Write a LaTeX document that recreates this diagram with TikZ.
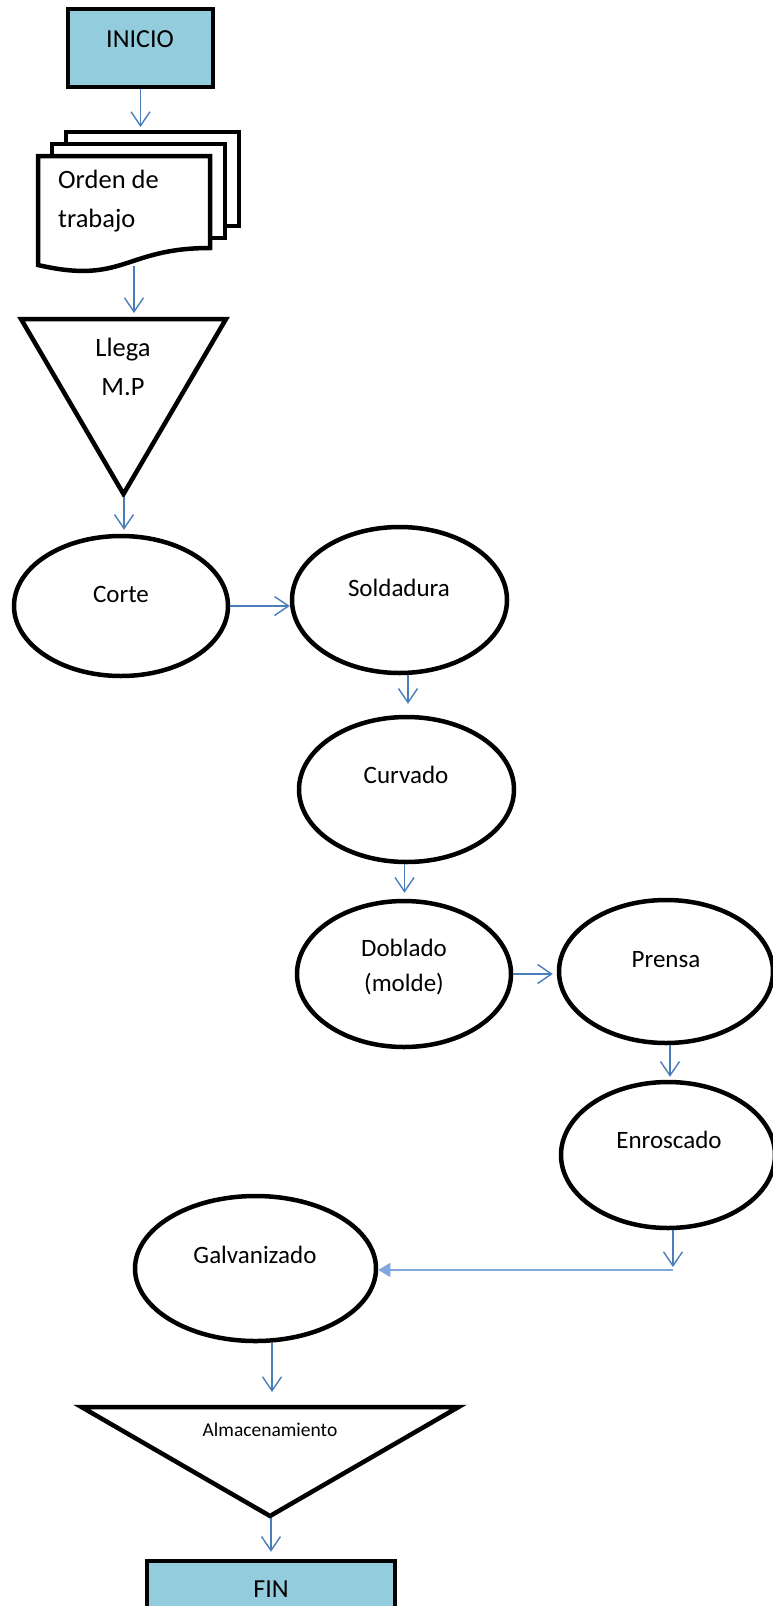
\documentclass[tikz,border=0pt]{standalone}
\usepackage{fontspec}
\setmainfont{Carlito}
\usetikzlibrary{arrows.meta,shapes.geometric}
\definecolor{arrowblue}{HTML}{4A7EBB}
\definecolor{lineblue}{HTML}{7FA8DF}
\definecolor{boxfill}{HTML}{93CDDD}
\begin{document}
\begin{tikzpicture}[x=1pt,y=-1pt,
  proc/.style={ellipse, draw=black, line width=4.5pt, fill=white, inner sep=0pt},
  term/.style={rectangle, draw=black, line width=4.5pt, fill=boxfill, inner sep=0pt, minimum width=145pt, minimum height=78pt},
  lbl/.style={anchor=base, inner sep=0pt, font=\fontsize{25}{30}\selectfont},
  lblbig/.style={anchor=base, inner sep=0pt, font=\fontsize{26.5}{32}\selectfont},
  lblsmall/.style={anchor=base, inner sep=0pt, font=\fontsize{19.5}{24}\selectfont},
  outline/.style={draw=black, line width=4.5pt, fill=white, line join=miter},
  arr/.style={draw=arrowblue, line width=1.4pt, -{Straight Barb[length=14pt,width=19pt]}},
  arrlight/.style={draw=lineblue, line width=1.4pt, -{Triangle[length=12pt,width=14pt]}}
]
\useasboundingbox (0,0) rectangle (773,1606);
\clip (0,0) rectangle (773,1606);

% start
\node[term] (inicio) at (140.5,48) {};
\node[lblbig, font=\fontsize{26}{32}\selectfont] (inicioT) at (140,47) {INICIO};

% multi-document
\draw[outline] (66,132) rectangle (239,226);
\draw[outline] (52,144) rectangle (225,238);
\draw[outline] (38,156) -- (210,156) -- (210,248) .. controls (124,248) and (124,285) .. (38,265) -- cycle;
\node[lblbig, anchor=base west] (ordenA) at (58,188) {Orden de};
\node[lblbig, anchor=base west] (ordenB) at (58,227) {trabajo};
\coordinate (docIn) at (140,127);
\coordinate (docOut) at (134,266);

% triangle 1
\draw[outline] (21,319) -- (226,319) -- (123.5,494) -- cycle;
\node[lblbig] (llegaA) at (123,356) {Llega};
\node[lblbig] (llegaB) at (123,395) {M.P};
\coordinate (t1in) at (134,313);
\coordinate (t1out) at (124,497);

% processes
\node[proc, minimum width=214pt, minimum height=140pt] (corte) at (121,606) {};
\node[proc, minimum width=215pt, minimum height=146pt] (sold) at (399.5,600) {};
\node[proc, minimum width=215pt, minimum height=145pt] (curv) at (406.5,789.5) {};
\node[proc, minimum width=214pt, minimum height=146pt] (dobl) at (404,974) {};
\node[proc, minimum width=214pt, minimum height=143pt] (pren) at (666,971.5) {};
\node[proc, minimum width=214pt, minimum height=146pt] (enro) at (668,1155) {};
\node[proc, minimum width=241pt, minimum height=145pt] (galv) at (255.5,1268.5) {};

\node[lbl] (corteT) at (121,602) {Corte};
\node[lbl] (soldT) at (399,596) {Soldadura};
\node[lbl] (curvT) at (406,783) {Curvado};
\node[lbl] (doblA) at (404,956) {Doblado};
\node[lbl] (doblB) at (404,991) {(molde)};
\node[lbl] (prenT) at (666,967) {Prensa};
\node[lbl] (enroT) at (669,1148) {Enroscado};
\node[lbl] (galvT) at (255,1263) {Galvanizado};

% triangle 2
\draw[outline] (81.5,1407) -- (458.5,1407) -- (270,1516) -- cycle;
\node[lblsmall] (almT) at (270,1436) {Almacenamiento};
\coordinate (t2in) at (272,1392);
\coordinate (t2out) at (271,1518);

% end
\node[term, minimum width=248pt] (fin) at (271,1600) {};
\node[lblbig, font=\fontsize{26}{32}\selectfont] (finT) at (271,1597) {FIN};

% connectors
\draw[arr] (inicio.south) -- (inicio.south |- docIn);
\draw[arr] (docOut) -- (t1in);
\draw[arr, shorten >=4pt] (t1out) -- (t1out |- corte.north);
\draw[arr] (corte.east) -- (corte.east -| sold.west);
\draw[arr, shorten >=11pt] ([xshift=1.5pt]curv.north |- sold.south) -- ([xshift=1.5pt]curv.north);
\draw[arr, shorten >=6pt] ([xshift=-2pt]curv.south) -- ([xshift=-2pt]curv.south |- dobl.north);
\draw[arr, shorten >=4pt] (dobl.east) -- (dobl.east -| pren.west);
\draw[arr, shorten >=3pt] ([xshift=4pt]pren.south) -- ([xshift=4pt]pren.south |- enro.north);
\coordinate (elbow) at (673,1270);
\draw[arr, shorten >=3pt] (elbow |- enro.south) -- (elbow);
\draw[arrlight] (elbow) -- (elbow -| galv.east);
\draw[arr] (t2in |- galv.south) -- (t2in);
\draw[arr, shorten >=7pt] (t2out) -- (fin.north);
\end{tikzpicture}
\end{document}
